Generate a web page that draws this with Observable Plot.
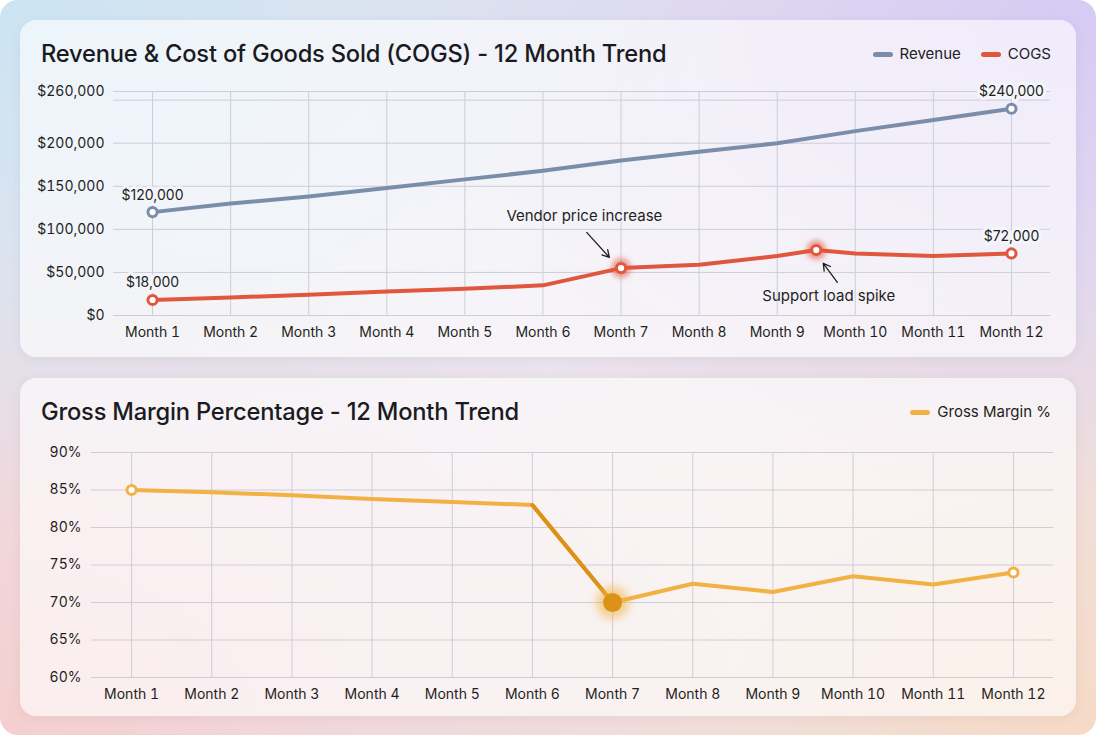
<!DOCTYPE html>
<html><head><meta charset="utf-8">
<script src="https://cdn.jsdelivr.net/npm/d3@7"></script>
<script src="https://cdn.jsdelivr.net/npm/@observablehq/plot@0.6"></script>
<style>
html,body{margin:0;padding:0;background:#fff;}
#page{position:relative;width:1096px;height:735px;overflow:hidden;border-radius:18px;font-family:Inter,"Noto Sans",sans-serif;
background:
 radial-gradient(ellipse 70% 70% at 0% 0%, #cbe4f3 0%, rgba(203,228,243,0) 100%),
 radial-gradient(ellipse 70% 70% at 100% 0%, #d5cbf4 0%, rgba(213,203,244,0) 100%),
 radial-gradient(ellipse 70% 70% at 0% 100%, #f5cfcf 0%, rgba(245,207,207,0) 100%),
 radial-gradient(ellipse 70% 70% at 100% 100%, #f6dac6 0%, rgba(246,218,198,0) 100%),
 #ebe3ec;}
.card{position:absolute;left:20px;width:1056px;border-radius:16px;background:rgba(255,255,255,0.62);box-shadow:0 2px 12px rgba(60,60,100,0.06);}
.title{position:absolute;left:21px;top:19px;font-size:23.7px;font-weight:500;color:#1b1b1f;line-height:30px;letter-spacing:-0.2px;white-space:nowrap}
.legend{position:absolute;right:25px;top:23px;display:flex;gap:20px;font-size:15px;color:#222;line-height:22px}
.item{display:flex;align-items:center;gap:7px}
.sw{width:20px;height:5px;border-radius:3px}
.plot{position:absolute;left:0;top:50px}
</style></head>
<body>
<div id="page">
  <div class="card" id="card1" style="top:20px;height:337px">
    <div class="title">Revenue &amp; Cost of Goods Sold (COGS) - 12 Month Trend</div>
    <div class="legend">
      <div class="item"><span class="sw" style="background:#7a8eab"></span>Revenue</div>
      <div class="item"><span class="sw" style="background:#e0573d"></span>COGS</div>
    </div>
    <div class="plot" id="plot1"></div>
  </div>
  <div class="card" id="card2" style="top:378px;height:338px">
    <div class="title">Gross Margin Percentage - 12 Month Trend</div>
    <div class="legend">
      <div class="item"><span class="sw" style="background:#f2b143"></span>Gross Margin %</div>
    </div>
    <div class="plot" id="plot2"></div>
  </div>
</div>
<script>
// ---- data ----
const months = [1, 2, 3, 4, 5, 6, 7, 8, 9, 10, 11, 12];
const monthLabels = ["Month 1","Month 2","Month 3","Month 4","Month 5","Month 6","Month 7","Month 8","Month 9","Month 10","Month 11","Month 12"];
const revenue = [120000, 130000, 138000, 148000, 158000, 168000, 180000, 190000, 200000, 214000, 227000, 240000];
const cogsMonths = [1, 2, 3, 4, 5, 6, 7, 8, 9, 9.5, 10, 11, 12];
const cogs = [18000, 21000, 24000, 28000, 31000, 35000, 55000, 59000, 69000, 76000, 72000, 69000, 72000];
const marginPct = [85.0, 84.7, 84.3, 83.8, 83.4, 83.0, 70.0, 72.5, 71.4, 73.5, 72.4, 74.0];
const revTickLabels = [0, 50000, 100000, 150000, 200000, 260000];
const revGridLines = [0, 50000, 100000, 150000, 200000, 250000, 260000];
const pctTicks = [60, 65, 70, 75, 80, 85, 90];
const labelledMonths = [1, 12];
const cogsHighlight = [7, 9.5];
const marginDrop = [6, 7];
const marginLow = [7];
const notes = [
  {text: "Vendor price increase", tx: 6.53, ty: 115000, x1: 6.56, y1: 96500, x2: 6.85, y2: 67500},
  {text: "Support load spike", tx: 9.66, ty: 22000, x1: 9.77, y1: 38500, x2: 9.59, y2: 60500}
];

const REV = "#7a8eab", COGS = "#e0573d", GM = "#f2b143", GM_DARK = "#dc9118", GRID = "#cbced8", INK = "#1f1f22";
const fmt = d3.format("$,");

const revData = months.map((m, i) => ({m, v: revenue[i]}));
const cogsData = cogsMonths.map((m, i) => ({m, v: cogs[i]}));
const gmData = months.map((m, i) => ({m, v: marginPct[i]}));

const baseStyle = {fontFamily: "Inter, 'Noto Sans', sans-serif", fontSize: "14px", color: INK, background: "transparent", overflow: "visible"};

// blur the first dot mark of a chart (the halo mark)
function addGlow(svg, id, std) {
  const s = d3.select(svg);
  const defs = s.insert("defs", ":first-child");
  defs.append("filter").attr("id", id).attr("x", "-150%").attr("y", "-150%").attr("width", "400%").attr("height", "400%")
    .append("feGaussianBlur").attr("stdDeviation", std);
  s.select('g[aria-label="dot"]').attr("filter", `url(#${id})`);
}

const p1 = Plot.plot({
  width: 1056, height: 287, marginTop: 21, marginBottom: 42, marginLeft: 93, marginRight: 26,
  style: baseStyle,
  x: {type: "linear", domain: [0.5, 12.5], label: null},
  y: {domain: [0, 260000], label: null},
  marks: [
    Plot.gridY(revGridLines, {stroke: GRID, strokeOpacity: 1}),
    Plot.gridX(months, {stroke: GRID, strokeOpacity: 1}),
    Plot.axisY({ticks: revTickLabels, tickFormat: fmt, tickSize: 0, tickPadding: 9, fill: INK}),
    Plot.axisX({ticks: months, tickFormat: d => monthLabels[d - 1], tickSize: 0, tickPadding: 12, fill: INK}),
    Plot.line(revData, {x: "m", y: "v", stroke: REV, strokeWidth: 4, strokeLinejoin: "round", strokeLinecap: "round"}),
    Plot.line(cogsData, {x: "m", y: "v", stroke: COGS, strokeWidth: 4, strokeLinejoin: "round", strokeLinecap: "round"}),
    Plot.dot(cogsData.filter(d => cogsHighlight.includes(d.m)), {x: "m", y: "v", r: 10, fill: COGS, fillOpacity: 0.55}),
    Plot.dot(revData.filter(d => labelledMonths.includes(d.m)), {x: "m", y: "v", r: 4.6, fill: "white", stroke: REV, strokeWidth: 3}),
    Plot.dot(cogsData.filter(d => labelledMonths.includes(d.m) || cogsHighlight.includes(d.m)), {x: "m", y: "v", r: 4.6, fill: "white", stroke: COGS, strokeWidth: 3}),
    Plot.text(revData.filter(d => labelledMonths.includes(d.m)), {x: "m", y: "v", text: d => fmt(d.v), dy: -17, fontSize: 14, fill: INK, stroke: "#f3f5fa", strokeWidth: 6, paintOrder: "stroke"}),
    Plot.text(cogsData.filter(d => labelledMonths.includes(d.m)), {x: "m", y: "v", text: d => fmt(d.v), dy: -17, fontSize: 14, fill: INK, stroke: "#f3f5fa", strokeWidth: 6, paintOrder: "stroke"}),
    Plot.arrow(notes, {x1: "x1", y1: "y1", x2: "x2", y2: "y2", stroke: INK, strokeWidth: 1.3, headLength: 9}),
    Plot.text(notes, {x: "tx", y: "ty", text: "text", fontSize: 15, fill: INK})
  ]
});
addGlow(p1, "glow1", 2.5);
document.getElementById("plot1").appendChild(p1);

const p2 = Plot.plot({
  width: 1056, height: 288, marginTop: 24, marginBottom: 39, marginLeft: 71, marginRight: 23,
  style: baseStyle,
  x: {type: "linear", domain: [0.5, 12.5], label: null},
  y: {domain: [60, 90], label: null},
  marks: [
    Plot.gridY(pctTicks, {stroke: GRID, strokeOpacity: 1}),
    Plot.gridX(months, {stroke: GRID, strokeOpacity: 1}),
    Plot.axisY({ticks: pctTicks, tickFormat: d => d + "%", tickSize: 0, tickPadding: 10, fill: INK}),
    Plot.axisX({ticks: months, tickFormat: d => monthLabels[d - 1], tickSize: 0, tickPadding: 12, fill: INK}),
    Plot.line(gmData, {x: "m", y: "v", stroke: GM, strokeWidth: 4, strokeLinejoin: "round", strokeLinecap: "round"}),
    Plot.line(gmData.filter(d => marginDrop.includes(d.m)), {x: "m", y: "v", stroke: GM_DARK, strokeWidth: 4, strokeLinecap: "round"}),
    Plot.dot(gmData.filter(d => marginLow.includes(d.m)), {x: "m", y: "v", r: 16, fill: GM, fillOpacity: 0.6}),
    Plot.dot(gmData.filter(d => labelledMonths.includes(d.m)), {x: "m", y: "v", r: 4.6, fill: "white", stroke: GM, strokeWidth: 3}),
    Plot.dot(gmData.filter(d => marginLow.includes(d.m)), {x: "m", y: "v", r: 9.5, fill: GM_DARK})
  ]
});
addGlow(p2, "glow2", 5);
document.getElementById("plot2").appendChild(p2);
</script>
</body></html>
